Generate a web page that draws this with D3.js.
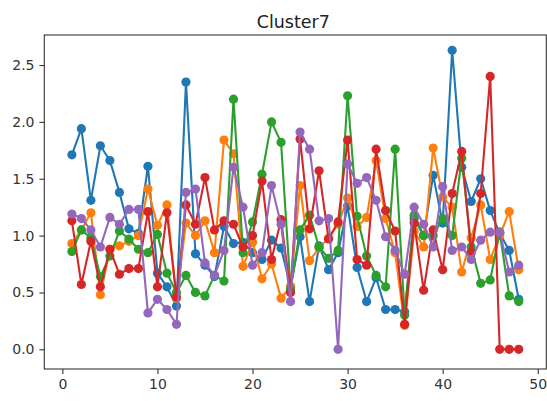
<!DOCTYPE html>
<html><head><meta charset="utf-8">
<script src="https://cdn.jsdelivr.net/npm/d3@7"></script>
<style>html,body{margin:0;padding:0;background:#fff;}svg{display:block;}</style>
</head><body>
<script>
const xs = d3.range(1, 49);
const blue   = [1.71,1.94,1.31,1.79,1.66,1.38,1.06,1.02,1.61,0.67,0.55,0.38,2.35,0.84,0.74,0.64,1.08,0.93,0.94,0.85,0.79,0.96,0.89,0.55,0.99,0.42,0.91,0.70,0.85,1.26,0.72,0.42,0.63,0.35,0.35,0.33,1.15,1.00,1.53,1.11,2.63,1.60,1.30,1.50,1.22,1.02,0.87,0.44];
const orange = [0.93,1.05,1.20,0.48,0.88,0.91,0.95,1.00,1.41,1.09,1.27,0.45,1.11,1.00,1.13,0.85,1.84,1.72,0.73,0.94,0.62,0.75,0.45,0.55,1.44,0.78,0.89,0.98,1.10,1.33,1.08,1.16,1.66,1.15,0.85,0.21,1.04,0.90,1.77,1.34,1.25,0.68,0.98,1.27,0.79,1.00,1.21,0.70];
const green  = [0.86,1.05,0.98,0.64,0.82,1.04,0.97,0.88,0.85,1.01,0.67,0.50,0.65,0.50,0.47,0.65,0.60,2.20,0.85,1.12,1.54,2.00,1.82,0.53,1.05,1.18,0.90,0.80,0.87,2.23,1.17,0.82,0.65,0.55,1.76,0.30,1.18,1.00,1.00,1.15,1.00,1.68,0.90,0.58,0.61,1.03,0.47,0.42];
const red    = [1.13,0.57,0.95,0.55,0.88,0.66,0.71,0.71,1.21,0.55,1.20,0.46,1.27,1.10,1.51,1.05,1.13,1.10,0.90,1.00,1.48,0.79,1.14,0.50,1.85,1.06,1.57,0.97,1.12,1.84,0.79,0.74,1.76,1.22,1.04,0.22,1.11,0.52,1.05,0.70,1.37,1.74,0.85,1.37,2.40,0.00,0.00,0.00];
const purple = [1.19,1.15,1.05,0.90,1.16,1.10,1.23,1.23,0.32,0.44,0.35,0.22,1.38,1.41,0.76,0.65,0.87,1.60,1.25,0.74,0.85,1.44,1.10,0.42,1.91,1.76,1.13,1.15,0.00,1.63,1.46,1.51,1.31,0.99,0.87,0.66,1.25,1.10,0.90,1.43,0.87,0.90,0.79,0.96,1.03,1.03,0.68,0.74];
const seriesNames = ["blue","orange","green","red","purple"];
const seriesValues = [blue, orange, green, red, purple];
const colors = ["#1f77b4","#ff7f0e","#2ca02c","#d62728","#9467bd"];
const xTicks = [0,10,20,30,40,50];
const yTicks = [0.0,0.5,1.0,1.5,2.0,2.5];
const title = "Cluster7";

const W = 547, H = 401;
const L = 44.3, R = 546.3, T = 35, B = 369;
const svg = d3.select("body").append("svg").attr("width", W).attr("height", H);
svg.append("rect").attr("width", W).attr("height", H).attr("fill", "#fff");

const x = d3.scaleLinear().domain([-1.9, 50.9]).range([L, R]);
const y = d3.scaleLinear().domain([-0.173, 2.764]).range([B, T]);

const plot = svg.append("g");
const line = d3.line().x((d, i) => x(xs[i])).y(d => y(d));
seriesValues.forEach((vals, si) => {
  const g = plot.append("g").attr("class", "series-" + seriesNames[si]);
  g.append("path").datum(vals).attr("d", line).attr("fill", "none")
    .attr("stroke", colors[si]).attr("stroke-width", 2.1).attr("stroke-linejoin", "round").attr("stroke-linecap", "square");
  g.selectAll("circle").data(vals).join("circle")
    .attr("cx", (d, i) => x(xs[i])).attr("cy", d => y(d)).attr("r", 4.6).attr("fill", colors[si]);
});

const fontFam = "DejaVu Sans, sans-serif";
const xAxis = svg.append("g").attr("transform", `translate(0,${B})`)
  .call(d3.axisBottom(x).tickValues(xTicks).tickFormat(d3.format("d")).tickSizeOuter(0).tickSize(4.9).tickPadding(4.9));
const yAxis = svg.append("g").attr("transform", `translate(${L},0)`)
  .call(d3.axisLeft(y).tickValues(yTicks).tickFormat(d3.format(".1f")).tickSizeOuter(0).tickSize(4.9).tickPadding(4.9));
[xAxis, yAxis].forEach(a => {
  a.select(".domain").remove();
  a.selectAll(".tick line").attr("stroke", "#333").attr("stroke-width", 1.1);
  a.selectAll(".tick text").attr("fill", "#333").style("font-family", fontFam).style("font-size", "14px");
});

svg.append("rect").attr("x", L).attr("y", T).attr("width", R - L).attr("height", B - T)
  .attr("fill", "none").attr("stroke", "#333").attr("stroke-width", 1.1);

svg.append("text").attr("x", (L + R) / 2 - 2).attr("y", 27.5).attr("text-anchor", "middle")
  .style("font-family", fontFam).style("font-size", "17.5px").attr("fill", "#222").text(title);
</script>
</body></html>
